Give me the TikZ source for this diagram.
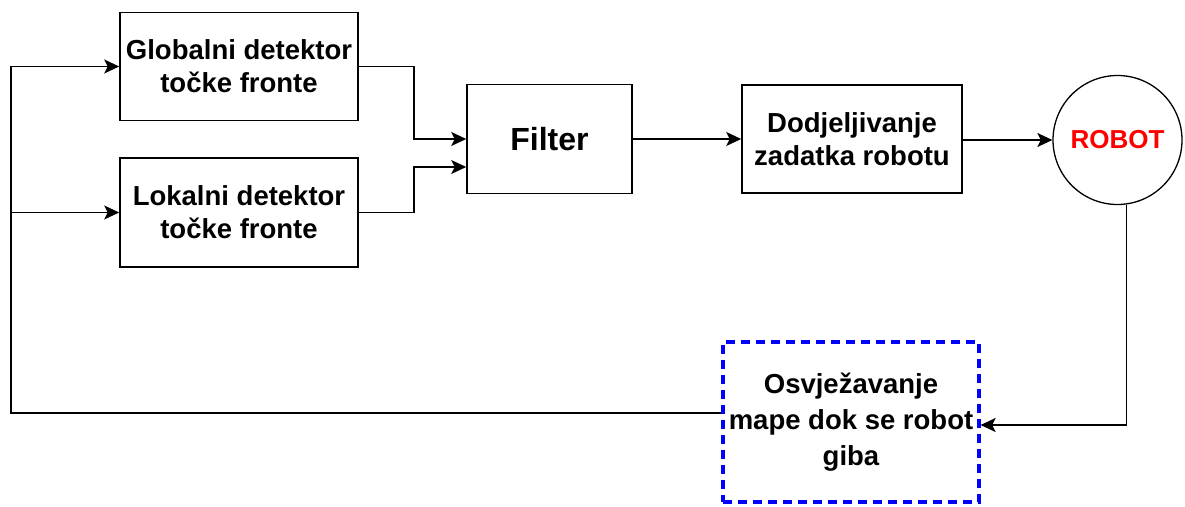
\documentclass[tikz,border=0pt]{standalone}
\usepackage{fontspec}
\setmainfont{Liberation Sans}
\usetikzlibrary{arrows.meta}
\definecolor{dblue}{RGB}{0,0,255}
\definecolor{rred}{RGB}{255,0,0}
\begin{document}
\begin{tikzpicture}[x=1pt,y=-1pt,
  box/.style={draw=black,line width=1.6pt,align=center,inner sep=0pt,
    font=\bfseries\fontsize{27.5}{33}\selectfont},
  arr/.style={draw=black,line width=1.6pt,-{Stealth[length=15pt,width=14pt,inset=3.5pt]}}]
\useasboundingbox (0,0) rectangle (1185,506);
\node[box,minimum width=238pt,minimum height=108pt] (glob) at (239,66.5) {Globalni detektor\\točke fronte};
\node[box,minimum width=238pt,minimum height=109pt] (lok) at (239,212.5) {Lokalni detektor\\točke fronte};
\node[box,minimum width=165pt,minimum height=109pt,font=\bfseries\fontsize{32}{38}\selectfont] (filt) at (549.5,139) {Filter};
\node[box,minimum width=220pt,minimum height=108pt] (dod) at (852,139) {Dodjeljivanje\\zadatka robotu};
\node[box,circle,line width=1.3pt,minimum size=129pt,text=rred,font=\bfseries\fontsize{26}{30}\selectfont] (robot) at (1117.5,140) {ROBOT};
\node[box,draw=dblue,line width=3.2pt,dash pattern=on 9pt off 6pt,minimum width=256pt,minimum height=160pt,font=\bfseries\fontsize{27.5}{36}\selectfont] (osv) at (851,422) {Osvježavanje\\mape dok se robot\\giba};
\coordinate (lt) at (11,66.5);
\draw[arr] (glob.east) -- ++(55,0) |- (filt.west);
\draw[arr] (lok.east) -- ++(55,0) |- ([yshift=-28pt]filt.west);
\draw[arr] (filt) -- (dod);
\draw[arr] (robot.west -| dod.east) -- (robot.west);
\draw[arr] (robot.-82) |- ([yshift=-3pt]osv.east);
\draw[arr] ([yshift=9pt]osv.west) -| (lt) -- (glob.west);
\draw[arr] (lok.west -| lt) -- (lok.west);
\end{tikzpicture}
\end{document}
